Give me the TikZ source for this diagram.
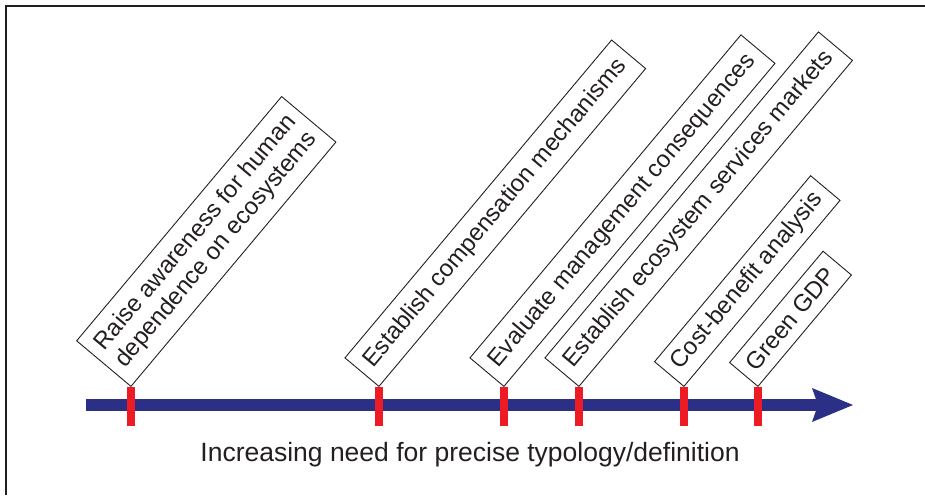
\documentclass[tikz,border=0pt]{standalone}
\usepackage{fontspec}
\setmainfont{Liberation Sans}
\usepackage{xcolor}
\usepackage{tikz}
\usetikzlibrary{arrows.meta}
\definecolor{axisblue}{RGB}{44,47,134}
\definecolor{tickred}{RGB}{237,28,36}
\definecolor{inkgray}{RGB}{35,31,32}

\begin{document}
\begin{tikzpicture}[x=1pt,y=1pt,
        stage/.style={draw=inkgray,line width=0.9pt,rotate=50,anchor=south west,align=left,
            inner xsep=10pt,inner ysep=11pt,text=inkgray,font=\fontsize{24}{26.5}\selectfont},
        tick/.style={line width=8pt,tickred}]
        \useasboundingbox (0,0) rectangle (925,495);
        \draw[inkgray,line width=1.3pt] (6,0) -- (6,489) -- (925,489);
        \draw (86,90) coordinate (tail);
        \draw (853,90) coordinate (head);
        \draw[line width=11pt,axisblue,-{Stealth[length=41pt,width=34pt,inset=6pt,line width=0pt]}] (tail) -- (head);
        \foreach \x [count=\i] in {131,379,504,579,684,758}
            \draw[tick] (\x,69) -- (\x,108) coordinate (t\i);
        \node[stage] (aware) at (t1) {Raise awareness for human\\dependence on ecosystems};
        \node[stage] (comp) at (t2) {Establish compensation mechanisms};
        \node[stage] (mgmt) at (t3) {Evaluate management consequences};
        \node[stage] (market) at (t4) {Establish ecosystem services markets};
        \node[stage,inner ysep=8pt] (cba) at (t5) {Cost-benefit analysis};
        \node[stage,inner ysep=10pt] (gdp) at (t6) {Green GDP};
        \node[anchor=base,text=inkgray,font=\fontsize{26.5}{32}\selectfont] (need) at (470,34) {Increasing need for precise typology/definition};
    \end{tikzpicture}
\end{document}
